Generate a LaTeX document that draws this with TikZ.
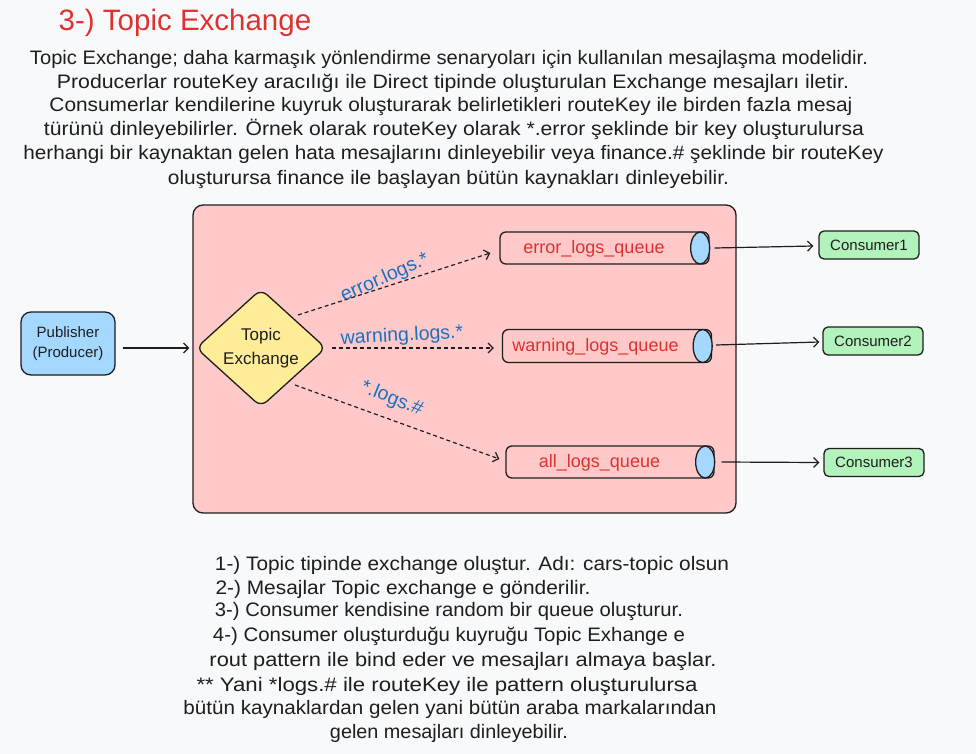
\documentclass[tikz,border=0pt]{standalone}
\usepackage{graphicx}
\usepackage{fontspec}
\setmainfont{Liberation Sans}
\usetikzlibrary{shapes.geometric,arrows.meta,calc}
\definecolor{bg}{HTML}{F8F9FA}
\definecolor{ink}{HTML}{1E1E1E}
\definecolor{redt}{HTML}{E03131}
\definecolor{bluet}{HTML}{1971C2}
\definecolor{pinkf}{HTML}{FFC9C9}
\definecolor{bluef}{HTML}{A5D8FF}
\definecolor{yellowf}{HTML}{FFEC99}
\definecolor{greenf}{HTML}{B2F2BB}
\newcommand\fitw[2]{\resizebox{#1pt}{\height}{#2}}
\begin{document}
\begin{tikzpicture}[x=1pt,y=-1pt,
  para/.style={font=\fontsize{19.5}{23}\selectfont, text=ink, inner sep=0pt, text height=14pt, text depth=4pt},
  shape box/.style={draw=ink, line width=1.3pt},
  queuebox/.style={shape box, rectangle, rounded corners=6pt, fill=pinkf},
  qcap/.style={draw=ink, line width=1.3pt, fill=bluef},
  qtext/.style={font=\fontsize{18}{20}\selectfont, text=redt, inner sep=0pt},
  lbl/.style={font=\fontsize{19.5}{20}\selectfont, text=bluet, inner sep=0pt},
  consumer/.style={shape box, rectangle, rounded corners=5pt, fill=greenf, minimum width=100pt, minimum height=28pt, inner sep=0pt, font=\fontsize{15}{18}\selectfont, text=ink},
  solidarrow/.style={draw=ink, line width=1.2pt, -{Straight Barb[length=5pt,width=10pt]}},
  dasharrow/.style={draw=ink, line width=1.2pt, dash pattern=on 4pt off 3pt, -{Straight Barb[length=5pt,width=10pt]}},
]
\fill[bg] (0,0) rectangle (976,754);
\useasboundingbox (0,0) rectangle (976,754);

% title
\node[font=\fontsize{29.5}{32}\selectfont, text=redt, inner sep=0pt] (title) at (185,23) {3-) Topic Exchange};

% paragraph
\node[para] (p1) at (449,60) {\fitw{838}{Topic Exchange; daha karmaşık yönlendirme senaryoları için kullanılan mesajlaşma modelidir.}};
\node[para] (p2) at (453,84) {\fitw{792}{Producerlar routeKey aracılığı ile Direct tipinde oluşturulan Exchange mesajları iletir.}};
\node[para] (p3) at (451,107) {\fitw{803}{Consumerlar kendilerine kuyruk oluşturarak belirletikleri routeKey ile birden fazla mesaj}};
\node[para] (p4) at (454,131) {\fitw{820}{türünü dinleyebilirler. Örnek olarak routeKey olarak *.error şeklinde bir key oluşturulursa}};
\node[para] (p5) at (453.5,155) {\fitw{860}{herhangi bir kaynaktan gelen hata mesajlarını dinleyebilir veya finance.\# şeklinde bir routeKey}};
\node[para] (p6) at (448.5,179) {\fitw{561}{oluşturursa finance ile başlayan bütün kaynakları dinleyebilir.}};

% container
\node[shape box, rectangle, rounded corners=10pt, fill=pinkf, minimum width=543pt, minimum height=308pt, inner sep=0pt] (cont) at (464.5,359) {};

% publisher
\node[shape box, rectangle, rounded corners=10pt, fill=bluef, minimum width=94pt, minimum height=63pt, inner sep=0pt, align=center, font=\fontsize{15}{20}\selectfont, text=ink] (pub) at (68,343.5) {Publisher\\(Producer)};

% exchange
\node[shape box, diamond, rounded corners=8pt, fill=yellowf, aspect=1.1, minimum width=130pt, minimum height=118pt, inner sep=0pt, align=center, font=\fontsize{17}{24}\selectfont, text=ink] (ex) at (261,348) {Topic\\Exchange};

% queues
\node[queuebox, minimum width=209pt, minimum height=32pt, inner sep=0pt] (eq) at (604.5,248) {};
\draw[qcap] ($(eq.east)+(-9.5,0)$) ellipse [x radius=9.5pt, y radius=16pt];
\node[qtext] (eqt) at (594,249) {error\_logs\_queue};

\node[queuebox, minimum width=209pt, minimum height=33pt, inner sep=0pt] (wq) at (607,346) {};
\draw[qcap] ($(wq.east)+(-9.5,0)$) ellipse [x radius=9.5pt, y radius=16.5pt];
\node[qtext] (wqt) at (595.5,347) {warning\_logs\_queue};

\node[queuebox, minimum width=208pt, minimum height=32pt, inner sep=0pt] (aq) at (610,462) {};
\draw[qcap] ($(aq.east)+(-9.5,0)$) ellipse [x radius=9.5pt, y radius=16pt];
\node[qtext] (aqt) at (599.5,463) {all\_logs\_queue};

% consumers
\node[consumer] (c1) at (869,245) {Consumer1};
\node[consumer] (c2) at (873,341) {Consumer2};
\node[consumer] (c3) at (874,462.5) {Consumer3};

% arrows
\draw[solidarrow] ($(pub.east)+(7,4.5)$) -- ($(ex.west)+(-6,0)$);
\draw[dasharrow] ($(ex.center)+(37,-33)$) -- ($(eq.west)+(-9,5)$);
\draw[dasharrow] ($(ex.east)+(5,0)$) -- ($(wq.west)+(-8,2)$);
\draw[dasharrow] ($(ex.center)+(34,37)$) -- ($(aq.west)+(-6,-3)$);

\draw[solidarrow] ($(eq.east)+(5,0)$) -- ($(c1.west)+(-5,1)$);
\draw[solidarrow] ($(wq.east)+(4,-1)$) -- ($(c2.west)+(-3,1)$);
\draw[solidarrow] ($(aq.east)+(7,0)$) -- ($(c3.west)+(-4,0)$);

% edge labels
\node[lbl, rotate=24] (l1) at (385,278) {error.logs.*};
\node[lbl, rotate=3] (l2) at (402,336) {warning.logs.*};
\node[lbl, rotate=-22] (l3) at (392,399) {*.logs.\#};

% bottom notes
\node[para] (b1) at (472,565) {\fitw{514}{1-) Topic tipinde exchange oluştur. Adı: cars-topic olsun}};
\node[para] (b2) at (403,589) {\fitw{375}{2-) Mesajlar Topic exchange e gönderilir.}};
\node[para] (b3) at (449,611) {\fitw{468}{3-) Consumer kendisine random bir queue oluşturur.}};
\node[para] (b4) at (449,636) {\fitw{472}{4-) Consumer oluşturduğu kuyruğu Topic Exhange e}};
\node[para] (b5) at (463,661) {\fitw{507}{rout pattern ile bind eder ve mesajları almaya başlar.}};
\node[para] (b6) at (447,686) {\fitw{501}{** Yani *logs.\# ile routeKey ile pattern oluşturulursa}};
\node[para] (b7) at (450,709) {\fitw{533}{bütün kaynaklardan gelen yani bütün araba markalarından}};
\node[para] (b8) at (449,733) {\fitw{238}{gelen mesajları dinleyebilir.}};
\end{tikzpicture}
\end{document}
